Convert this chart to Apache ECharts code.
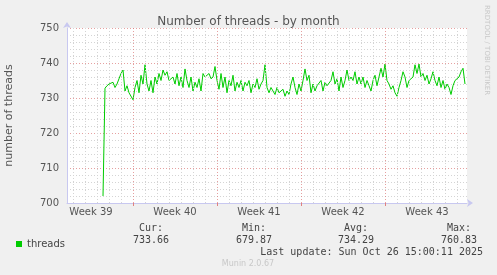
<!DOCTYPE html>
<html><head><meta charset="utf-8">
<script src="https://cdn.jsdelivr.net/npm/echarts@6/dist/echarts.min.js"></script>
<style>html,body{margin:0;padding:0;background:#f0f0f0}#c{width:497px;height:275px}</style>
</head><body><div id="c"></div>
<script>
// ---- data ----
const weekLabels = ['Week 39', 'Week 40', 'Week 41', 'Week 42', 'Week 43'];
const weekCenters = [3.5, 10.5, 17.5, 24.5, 31.5];      // days since Mon Sep 22 2025
const weekBoundaries = [7, 14, 21, 28];
const dayLines = [2, 3, 4, 5, 6, 8, 9, 10, 11, 12, 13, 15, 16, 17, 18, 19, 20, 22, 23, 24, 25, 26, 27, 29, 30, 31, 32, 33, 34];
const startDay = 4.5;      // first sample
const stepDay = 1 / 6;     // 4 hours between samples
const threads = [
  702, 732.8, 733.5, 734, 733.5, 734.5, 733, 734, 735.5, 737, 738, 732, 733.5, 731.5, 732, 729.5,
  733, 735, 731.5, 736.5, 734, 739.5, 734, 732, 735, 731.5, 736, 734, 737, 735, 738, 736.5,
  737.5, 735, 734.5, 736, 734, 737, 733.5, 736, 733, 738.3, 735, 733, 736, 732, 734.5, 733,
  735.5, 732, 737, 736, 736.5, 737, 735.5, 736, 739, 735, 732.5, 737, 733, 736, 731.5, 735,
  733.5, 736.5, 732, 734.5, 733, 735, 732, 734.5, 733.5, 735, 731.5, 734, 733, 735.5, 732.5, 734,
  735, 739.5, 733, 731.5, 733, 732, 731, 733, 731.5,
  731, 732.5, 730.5, 732, 731, 734, 736, 733, 731, 734, 732, 735, 738.3, 735, 736.5, 731.5,
  734, 732, 733.5, 733, 735, 732, 734.5, 733.5, 734, 735, 737.5, 734, 735.5, 732, 736, 733,
  735, 738, 735, 736, 735, 737.5, 734, 736, 734, 736, 733, 735, 733.5, 732, 735, 736.5,
  733.5, 736, 738.5, 736, 739.7, 735, 734, 732.5, 733.5, 731.5, 730.5, 733, 735, 737.5, 736, 733,
  735, 734.5, 736, 739.5, 737, 739.7, 736, 737, 735, 736.5, 734, 735.5, 737.5, 735, 733.5, 736,
  733, 735, 732.5, 734, 733, 731, 733.5, 735, 734.5, 736, 737.5, 738.5, 734
];
const statLabels = ['Cur:', 'Min:', 'Avg:', 'Max:'];
const statValues = ['733.66', '679.87', '734.29', '760.83'];
const lastUpdate = 'Last update: Sun Oct 26 15:00:11 2025';

// ---- chart ----
const seriesData = threads.map((v, i) => [startDay + i * stepDay, v]);
const statRight = [169, 272, 374, 477];
const mono = 'DejaVu Sans Mono';
const sans = 'DejaVu Sans';

const graphics = [
  { type: 'text', x: 490, y: 5, rotation: -Math.PI / 2,
    style: { text: 'RRDTOOL / TOBI OETIKER', fill: '#c8c8c8', font: '7px ' + sans } },
  { type: 'text', x: 248, y: 263.5,
    style: { text: 'Munin 2.0.67', fill: '#c8c8c8', font: '8px ' + sans, align: 'center', verticalAlign: 'middle' } },
  { type: 'text', x: 483, y: 252,
    style: { text: lastUpdate, fill: '#444', font: '10px ' + mono, align: 'right', verticalAlign: 'middle' } }
];
statLabels.forEach((s, i) => {
  graphics.push({ type: 'text', x: statRight[i] - 6, y: 228,
    style: { text: s, fill: '#444', font: '10px ' + mono, align: 'right', verticalAlign: 'middle' } });
  graphics.push({ type: 'text', x: statRight[i], y: 240,
    style: { text: statValues[i], fill: '#444', font: '10px ' + mono, align: 'right', verticalAlign: 'middle' } });
});

const chart = echarts.init(document.getElementById('c'), null, { renderer: 'canvas' });
chart.setOption({
  backgroundColor: '#f0f0f0',
  animation: false,
  title: {
    text: 'Number of threads - by month', left: 'center', top: 11,
    textStyle: { fontFamily: sans, fontSize: 12, fontWeight: 'normal', color: '#555' }
  },
  legend: {
    data: ['threads'], left: 11, top: 234, icon: 'rect', itemWidth: 6, itemHeight: 6, itemGap: 4,
    textStyle: { fontFamily: sans, fontSize: 10, color: '#444' }
  },
  grid: { left: 67, top: 28, width: 400, height: 175, show: true, backgroundColor: '#fff', borderWidth: 0,
          containLabel: false, outerBoundsMode: 'none' },
  xAxis: {
    type: 'value', min: 1.5, max: 34.8333,
    axisLine: { show: true, lineStyle: { color: '#c8c8f0', width: 1 }, symbol: ['none', 'arrow'], symbolSize: [6, 6], symbolOffset: [0, 6] },
    axisTick: { show: true, customValues: weekBoundaries, length: 3, lineStyle: { color: '#e08080' } },
    axisLabel: {
      customValues: weekCenters, margin: 4, fontFamily: sans, fontSize: 10, color: '#555',
      formatter: v => weekLabels[weekCenters.indexOf(v)] || ''
    },
    splitLine: { show: false }
  },
  yAxis: {
    type: 'value', min: 700, max: 750, interval: 10,
    name: 'number of threads', nameLocation: 'middle', nameGap: 52,
    nameTextStyle: { fontFamily: sans, fontSize: 11, color: '#555' },
    axisLine: { show: true, lineStyle: { color: '#c8c8f0', width: 1 }, symbol: ['none', 'arrow'], symbolSize: [6, 6], symbolOffset: [0, 6] },
    axisTick: { show: false },
    axisLabel: { margin: 8, fontFamily: sans, fontSize: 10, color: '#555' },
    splitLine: { show: true, lineStyle: { color: 'rgba(220,120,120,0.7)', type: [1, 2] } },
    minorTick: { show: false, splitNumber: 5 },
    minorSplitLine: { show: true, lineStyle: { color: '#d4d4d4', type: [1, 2] } }
  },
  series: [
    {
      type: 'line', name: 'grid', data: [], z: 1, silent: true, legendHoverLink: false,
      markLine: {
        silent: true, symbol: ['none', 'none'], label: { show: false }, animation: false,
        data: dayLines.map(d => ({ xAxis: d, lineStyle: { color: '#d4d4d4', type: [1, 2], width: 1 } }))
          .concat(weekBoundaries.map(d => ({ xAxis: d, lineStyle: { color: 'rgba(220,120,120,0.7)', type: [1, 2], width: 1 } })))
      }
    },
    {
      type: 'line', name: 'threads', data: seriesData, z: 3, showSymbol: false, symbol: 'none',
      lineStyle: { color: '#00cc00', width: 1 }, itemStyle: { color: '#00cc00' }
    }
  ],
  graphic: graphics
});
</script></body></html>
